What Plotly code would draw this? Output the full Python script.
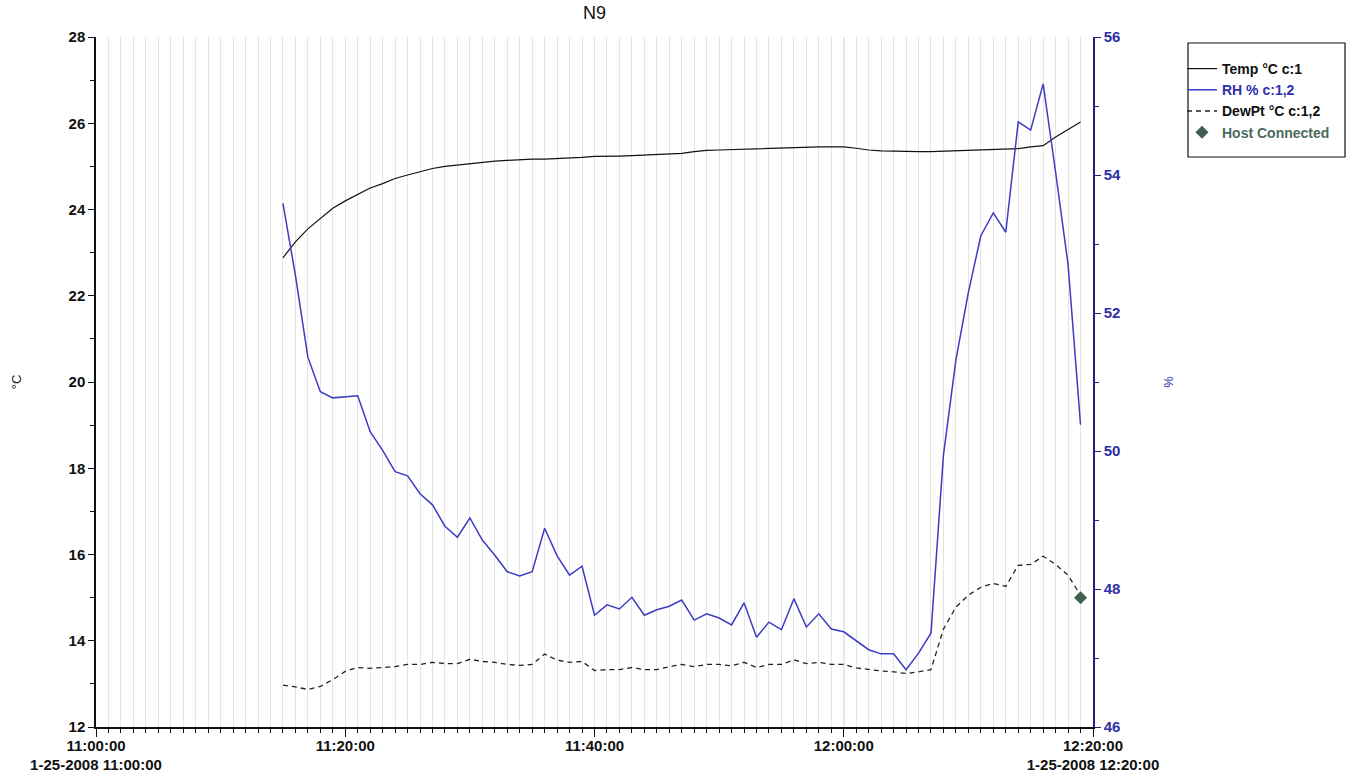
import pandas as pd
import plotly.graph_objects as go

# ---- data (one sample per minute, 11:15 .. 12:19 on 1-25-2008) ----
start_time = "2008-01-25 11:15:00"

temp_c = [22.88, 23.25, 23.55, 23.80, 24.03, 24.20, 24.35, 24.50, 24.60, 24.72,
          24.80, 24.87, 24.95, 25.00, 25.03, 25.07, 25.10, 25.12, 25.14, 25.16,
          25.17, 25.17, 25.18, 25.20, 25.21, 25.23, 25.23, 25.24, 25.25, 25.26,
          25.27, 25.28, 25.30, 25.34, 25.37, 25.38, 25.39, 25.40, 25.41, 25.42,
          25.43, 25.44, 25.45, 25.45, 25.45, 25.45, 25.42, 25.38, 25.36, 25.35,
          25.34, 25.34, 25.34, 25.35, 25.36, 25.36, 25.37, 25.38, 25.39, 25.41,
          25.45, 25.48, 25.68, 25.85, 26.03]

rh_pct = [53.59, 52.55, 51.36, 50.86, 50.77, 50.78, 50.80, 50.28, 50.01, 49.70,
          49.64, 49.38, 49.22, 48.91, 48.75, 49.03, 48.71, 48.49, 48.25, 48.19,
          48.25, 48.88, 48.48, 48.20, 48.33, 47.62, 47.77, 47.71, 47.88, 47.62,
          47.70, 47.75, 47.84, 47.55, 47.64, 47.58, 47.48, 47.80, 47.30, 47.52,
          47.41, 47.86, 47.45, 47.64, 47.42, 47.38, 47.25, 47.12, 47.06, 47.06,
          46.83, 47.07, 47.36, 49.94, 51.32, 52.30, 53.12, 53.45, 53.17, 54.77,
          54.65, 55.32, 54.04, 52.70, 50.38]

dewpt_c = [12.97, 12.93, 12.87, 12.94, 13.10, 13.29, 13.38, 13.36, 13.38, 13.40,
           13.45, 13.45, 13.50, 13.47, 13.47, 13.57, 13.52, 13.50, 13.45, 13.43,
           13.45, 13.69, 13.55, 13.50, 13.52, 13.31, 13.33, 13.33, 13.38, 13.33,
           13.33, 13.40, 13.45, 13.40, 13.45, 13.45, 13.42, 13.50, 13.38, 13.45,
           13.45, 13.56, 13.47, 13.50, 13.45, 13.45, 13.37, 13.33, 13.30, 13.28,
           13.24, 13.28, 13.33, 14.27, 14.78, 15.06, 15.24, 15.33, 15.26, 15.75,
           15.77, 15.96, 15.77, 15.52, 15.05]

host_time = ["2008-01-25 12:19:00"]
host_value = [15.0]

x_tickvals = ["2008-01-25 11:00:00", "2008-01-25 11:20:00", "2008-01-25 11:40:00",
              "2008-01-25 12:00:00", "2008-01-25 12:20:00"]
x_ticktext = ["11:00:00<br>1-25-2008 11:00:00", "11:20:00", "11:40:00", "12:00:00",
              "12:20:00<br>1-25-2008 12:20:00"]
hour_mark = "2008-01-25 12:00:00"

times = pd.date_range(start_time, periods=len(temp_c), freq="1min")

FONT = "Liberation Sans, Arial, sans-serif"
BLUE = "#3c3cc4"
AXBLUE = "#22227a"
LBLUE = "#2f2fa6"
HOST = "#3f5f4f"

W, H = 1348, 774
L, R, T, B = 96, 1093, 37, 727
pw, ph = R - L, B - T

def px_x(p):
    return (p - L) / pw

def px_y(p):
    return 1 - (p - T) / ph

fig = go.Figure()
fig.add_trace(go.Scatter(x=times, y=temp_c, mode="lines", name="Temp °C c:1",
                         line=dict(color="#111111", width=1.2), yaxis="y"))
fig.add_trace(go.Scatter(x=times, y=rh_pct, mode="lines",
                         name='<span style="color:#3030b0">RH % c:1,2</span>',
                         line=dict(color=BLUE, width=1.5), yaxis="y2"))
fig.add_trace(go.Scatter(x=times, y=dewpt_c, mode="lines", name="DewPt °C c:1,2",
                         line=dict(color="#222222", width=1.3, dash="5px,4px"), yaxis="y"))
fig.add_trace(go.Scatter(x=host_time, y=host_value, mode="markers",
                         name='<span style="color:#4d6a5c">Host Connected</span>',
                         marker=dict(symbol="diamond", size=10, color=HOST), yaxis="y"))

fig.update_layout(
    width=W, height=H,
    margin=dict(l=L, r=W - R, t=T, b=H - B, autoexpand=False),
    paper_bgcolor="white", plot_bgcolor="white",
    font=dict(family=FONT, size=15, color="#111111"),
    title=dict(text="N9", x=px_x((L + R) / 2), xref="paper", xanchor="center",
               y=1 - 13 / H, yref="container", yanchor="middle",
               font=dict(family=FONT, size=18, color="#111111")),
    showlegend=True,
    legend=dict(x=px_x(1182), y=px_y(53), xanchor="left", yanchor="top",
                bgcolor="rgba(0,0,0,0)", borderwidth=0, itemwidth=30,
                font=dict(family=FONT, size=14, color="#111111", weight="bold"),
                tracegroupgap=0),
    xaxis=dict(
        type="date", automargin=False,
        range=["2008-01-25 11:00:00", "2008-01-25 12:20:00"],
        tickmode="array", tickvals=x_tickvals, ticktext=x_ticktext,
        tickangle=0, ticklabelstandoff=-4,
        tickfont=dict(family=FONT, size=15, color="#111111", weight="bold"),
        ticks="outside", ticklen=8, tickcolor="#111111", tickwidth=1,
        showline=True, linecolor="#111111", linewidth=1.5,
        showgrid=True, gridcolor="#e4e4e4", gridwidth=1,
        zeroline=False,
        minor=dict(dtick=60000, ticks="outside", ticklen=4, tickcolor="#111111",
                   showgrid=True, gridcolor="#e4e4e4", gridwidth=1),
    ),
    yaxis=dict(
        range=[12, 28], dtick=2, tick0=12, automargin=False,
        tickfont=dict(family=FONT, size=15, color="#111111", weight="bold"),
        ticks="outside", ticklen=6, tickcolor="#111111",
        showline=True, linecolor="#111111", linewidth=1.5,
        showgrid=False, zeroline=False,
        minor=dict(dtick=1, ticks="outside", ticklen=4, tickcolor="#111111", showgrid=False),
        title=dict(text="°C", standoff=44, font=dict(family=FONT, size=13, color="#111111")),
    ),
    yaxis2=dict(
        overlaying="y", side="right", automargin=False,
        range=[46, 56], dtick=2, tick0=46,
        tickfont=dict(family=FONT, size=15, color=LBLUE, weight="bold"),
        ticks="outside", ticklen=6, tickcolor=AXBLUE,
        showline=True, linecolor=AXBLUE, linewidth=1.5,
        showgrid=False, zeroline=False,
        minor=dict(dtick=1, ticks="outside", ticklen=4, tickcolor=AXBLUE, showgrid=False),
        title=dict(text="%", standoff=44, font=dict(family=FONT, size=13, color=LBLUE)),
    ),
    shapes=[
        dict(type="line", xref="x", yref="paper", x0=hour_mark, x1=hour_mark, y0=0, y1=1,
             line=dict(color="#a8a8a8", width=1), layer="below"),
        dict(type="rect", xref="paper", yref="paper",
             x0=px_x(1188), x1=px_x(1345), y0=px_y(157), y1=px_y(43),
             line=dict(color="#111111", width=1.2), fillcolor="rgba(0,0,0,0)"),
    ],
)

fig.write_html(
    "out.html",
    config={"displayModeBar": False},
    post_script="document.body.style.margin='0';document.body.style.overflow='hidden';",
)
